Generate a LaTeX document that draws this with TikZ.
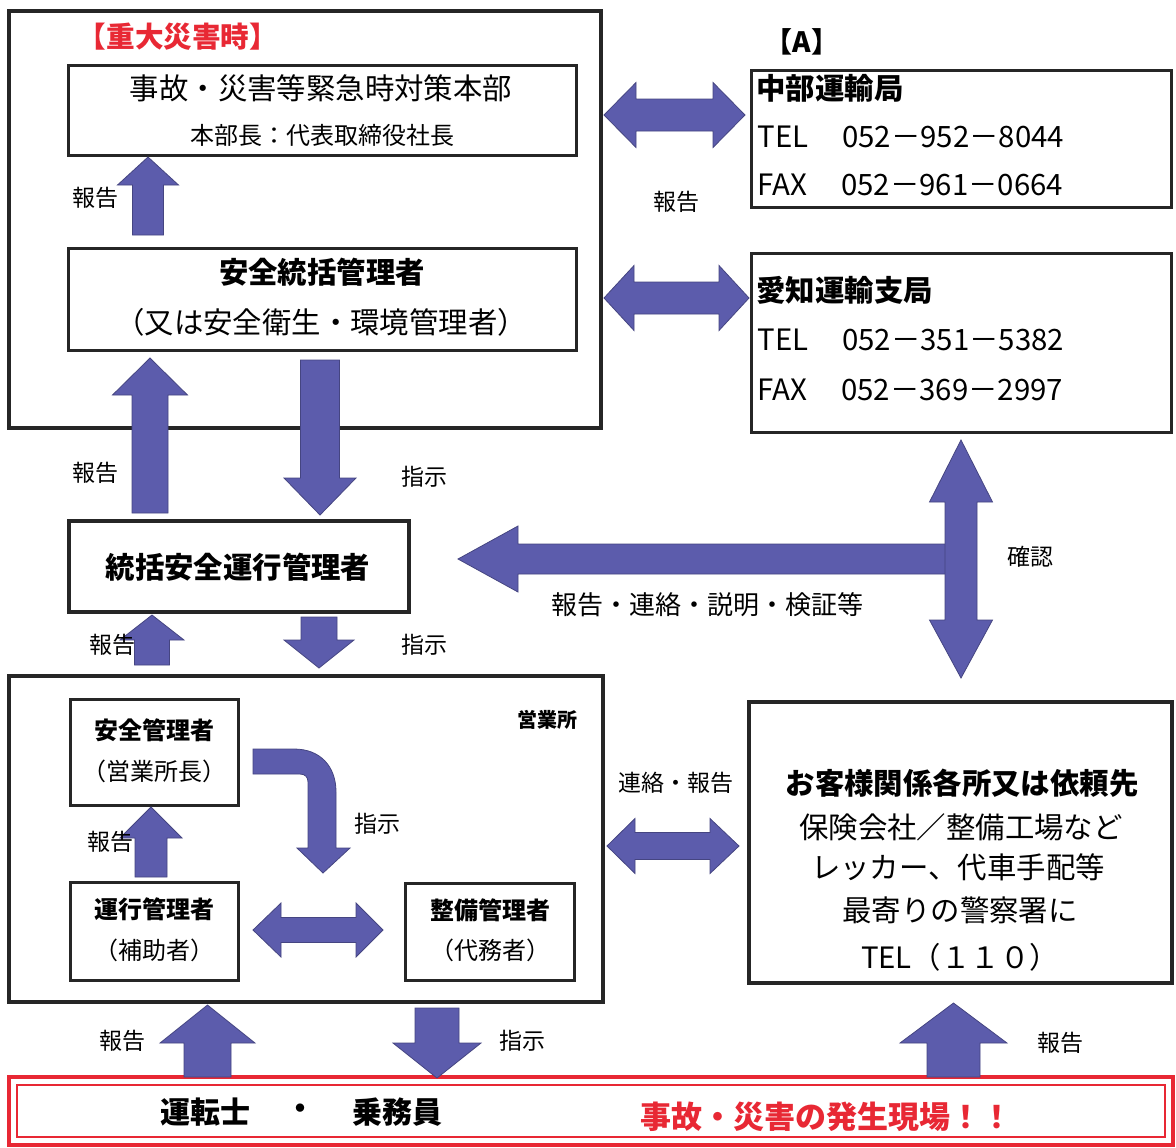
\documentclass[tikz,border=0pt]{standalone}
\usepackage{fontspec}
\setmainfont{Noto Sans CJK JP}
\definecolor{arrblue}{RGB}{92,92,172}
\definecolor{alertred}{RGB}{232,40,52}
\newcommand\varr[6]{\fill[arr] (#1-#5,#2) -- (#1-#5,#3) -- (#1-#6,#3) -- (#1,#4) -- (#1+#6,#3) -- (#1+#5,#3) -- (#1+#5,#2) -- cycle;}
\newcommand\harr[6]{\fill[arr] (#2,#1-#5) -- (#3,#1-#5) -- (#3,#1-#6) -- (#4,#1) -- (#3,#1+#6) -- (#3,#1+#5) -- (#2,#1+#5) -- cycle;}
\newcommand\dharr[7]{\fill[arr] (#2,#1) -- (#3,#1-#7) -- (#3,#1-#6) -- (#4,#1-#6) -- (#4,#1-#7) -- (#5,#1) -- (#4,#1+#7) -- (#4,#1+#6) -- (#3,#1+#6) -- (#3,#1+#7) -- cycle;}
\newcommand\dvarr[7]{\fill[arr] (#1,#2) -- (#1-#7,#3) -- (#1-#6,#3) -- (#1-#6,#4) -- (#1-#7,#4) -- (#1,#5) -- (#1+#7,#4) -- (#1+#6,#4) -- (#1+#6,#3) -- (#1+#7,#3) -- cycle;}
\tikzset{
  outerbox/.style={draw=black!85, line width=1.8pt, fill=white, rectangle, inner sep=0pt},
  innerbox/.style={draw=black!85, line width=1.5pt, fill=white, rectangle, inner sep=0pt},
  arr/.style={fill=arrblue, draw=arrblue!75!black, line width=0.4pt},
  lbl/.style={font=\fontsize{11.5pt}{13pt}\selectfont, inner sep=0pt},
  big/.style={font=\fontsize{14.7pt}{17pt}\selectfont, inner sep=0pt},
  bigb/.style={font=\fontsize{14.7pt}{17pt}\selectfont\bfseries, inner sep=0pt},
  mid/.style={font=\fontsize{12pt}{14pt}\selectfont, inner sep=0pt},
  midb/.style={font=\fontsize{12pt}{14pt}\selectfont\bfseries, inner sep=0pt},
}
\begin{document}
\begin{tikzpicture}[x=0.5pt,y=-0.5pt]
\useasboundingbox (0,0) rectangle (1176,1147);
\fill[white] (0,0) rectangle (1176,1147);
% boxes
\node[outerbox, minimum width=296pt, minimum height=208.5pt] (top) at (305,219.5) {};
\node[innerbox, minimum width=254pt, minimum height=45pt] (hq) at (322,110) {};
\node[innerbox, minimum width=254pt, minimum height=51pt] (sgm) at (322,299) {};
\node[innerbox, minimum width=210pt, minimum height=68.5pt] (chubu) at (961,138.5) {};
\node[innerbox, minimum width=210pt, minimum height=89.5pt] (aichi) at (961,342.5) {};
\node[outerbox, minimum width=170pt, minimum height=45.5pt] (tokatsu) at (239,566.5) {};
\node[outerbox, minimum width=297pt, minimum height=163pt] (office) at (306,839) {};
\node[innerbox, minimum width=84pt, minimum height=53pt] (anzen) at (154,752) {};
\node[innerbox, minimum width=84pt, minimum height=49pt] (unko) at (154,931) {};
\node[innerbox, minimum width=84.5pt, minimum height=48.5pt] (seibi) at (489.5,931.5) {};
\node[outerbox, minimum width=211.5pt, minimum height=140.5pt] (kyaku) at (960.5,842.5) {};
\node[draw=alertred, line width=2pt, fill=white, minimum width=582pt, minimum height=34pt, inner sep=0pt] (scene) at (591,1111) {};
\node[draw=alertred, line width=0.6pt, minimum width=574pt, minimum height=26pt, inner sep=0pt] (scenein) at (591,1111) {};
% arrows
\varr{148}{235}{185}{157}{15.5}{30.5}
\dharr{115}{604}{636}{713}{745}{16}{32.5}
\dharr{298}{604}{634}{719}{749}{16}{32.5}
\varr{150}{513}{395}{358}{18}{37.5}
\varr{320}{360}{478}{515}{19.5}{36}
\harr{559}{961}{518}{458}{15}{33}
\dvarr{961}{440}{502}{620}{678}{16}{31.5}
\varr{152}{665}{640}{615}{17.5}{32}
\varr{319}{617}{640}{668}{18}{35}
\varr{151}{877}{838}{807}{16}{31}
\fill[arr] (253,749) -- (294,749) .. controls (320,749) and (336,766) .. (336,792) -- (336,848) -- (350,848) -- (323,873) -- (297,848) -- (308,848) -- (308,782) .. controls (308,777) and (305,774) .. (300,774) -- (253,774) -- cycle;
\dharr{930}{253}{281}{356}{383}{12.5}{27}
\dharr{846}{607}{635}{710}{739}{13.5}{27.5}
\varr{207.5}{1077}{1043}{1005}{23.5}{47.5}
\varr{437}{1008}{1043}{1078}{22}{44}
\varr{953.5}{1077}{1043}{1003}{26.5}{53.5}
% texts top area
\node[font=\fontsize{14.3pt}{16pt}\selectfont\bfseries, text=alertred, inner sep=0pt] (ttl) at (178,37) {【重大災害時】};
\node[big] (hq1) at (321,88) {事故・災害等緊急時対策本部};
\node[mid] (hq2) at (322,135) {本部長：代表取締役社長};
\node[lbl] (l1) at (95,198) {報告};
\node[bigb] (sgm1) at (322,272) {安全統括管理者};
\node[big] (sgm2) at (321,322) {（又は安全衛生・環境管理者）};
\node[font=\fontsize{14pt}{16pt}\selectfont\bfseries, inner sep=0pt] (ta) at (802,42) {【A】};
\node[bigb, anchor=west] (c1) at (756,88) {中部運輸局};
\node[big, anchor=west] (c2) at (757,137) {TEL\hspace{17pt}052－952－8044};
\node[big, anchor=west] (c3) at (757,185) {FAX\hspace{17pt}052－961－0664};
\node[lbl] (l2) at (676,202) {報告};
\node[bigb, anchor=west] (a1) at (756,290) {愛知運輸支局};
\node[big, anchor=west] (a2) at (757,340) {TEL\hspace{17pt}052－351－5382};
\node[big, anchor=west] (a3) at (757,390) {FAX\hspace{17pt}052－369－2997};
% middle
\node[lbl] (l3) at (95,473) {報告};
\node[lbl] (l4) at (424,477) {指示};
\node[bigb] (tk1) at (238,567) {統括安全運行管理者};
\node[font=\fontsize{13pt}{15pt}\selectfont, inner sep=0pt] (l5) at (707,605) {報告・連絡・説明・検証等};
\node[lbl] (l6) at (1030,557) {確認};
\node[lbl] (l7) at (112,645) {報告};
\node[lbl] (l8) at (424,645) {指示};
% office
\node[font=\fontsize{10pt}{12pt}\selectfont\bfseries, inner sep=0pt] (of) at (547,720) {営業所};
\node[midb] (an1) at (154,730) {安全管理者};
\node[mid] (an2) at (154,771) {（営業所長）};
\node[lbl] (l9) at (110,842) {報告};
\node[lbl] (l10) at (377,824) {指示};
\node[midb] (un1) at (154,909) {運行管理者};
\node[mid] (un2) at (154,950) {（補助者）};
\node[midb] (se1) at (490,910) {整備管理者};
\node[mid] (se2) at (490,950) {（代務者）};
% customers
\node[lbl] (l11) at (676,783) {連絡・報告};
\node[bigb] (k1) at (962,783) {お客様関係各所又は依頼先};
\node[big] (k2) at (961,827) {保険会社／整備工場など};
\node[big] (k3) at (958,867) {レッカー、代車手配等};
\node[big] (k4) at (960,910) {最寄りの警察署に};
\node[big] (k5) at (960,957) {TEL（１１０）};
% bottom
\node[lbl] (l12) at (122,1041) {報告};
\node[lbl] (l13) at (522,1041) {指示};
\node[lbl] (l14) at (1060,1043) {報告};
\node[font=\fontsize{15pt}{17pt}\selectfont\bfseries, inner sep=0pt] (dr1) at (205,1112) {運転士};
\node[font=\fontsize{15pt}{17pt}\selectfont\bfseries, inner sep=0pt] (dr2) at (300,1112) {・};
\node[font=\fontsize{15pt}{17pt}\selectfont\bfseries, inner sep=0pt] (dr3) at (397,1112) {乗務員};
\node[font=\fontsize{15.5pt}{17pt}\selectfont\bfseries, text=alertred, inner sep=0pt] (sc) at (826,1117) {事故・災害の発生現場！！};
\end{tikzpicture}
\end{document}
